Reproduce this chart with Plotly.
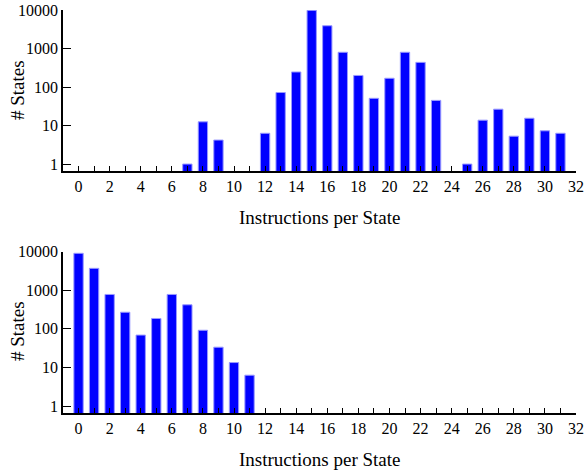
import plotly.graph_objects as go
from plotly.subplots import make_subplots

instructions = list(range(32))
# Top panel: number of states per instruction count (None = no states)
states_top = [None, None, None, None, None, None, None, 1, 12.5, 4.2,
              None, None, 6.3, 72, 246, 9800, 3900, 800, 200, 51,
              169, 800, 437, 45, None, 1, 13.8, 26.6, 5.3, 15.5,
              7.3, 6.3]
# Bottom panel
states_bottom = [9080, 3700, 780, 270, 69, 186, 780, 420, 92, 33.5,
                 13.4, 6.3] + [None] * 20

x_tickvals = list(range(0, 33, 2))
y_tickvals = [1, 10, 100, 1000, 10000]
x_title = "Instructions per State"
y_title = "# States"

fig = make_subplots(rows=2, cols=1, vertical_spacing=0.2)

for row, vals in [(1, states_top), (2, states_bottom)]:
    fig.add_trace(go.Bar(x=instructions, y=vals, width=0.6,
                         marker=dict(color="#0000ff",
                                     line=dict(color="#9999ff", width=1)),
                         showlegend=False), row=row, col=1)

font = dict(family="Liberation Serif, Times New Roman, serif", size=16, color="#000")
title_font = dict(family="Liberation Serif, Times New Roman, serif", size=19, color="#000")

for row in (1, 2):
    fig.update_xaxes(row=row, col=1, range=[-1, 32], tickvals=x_tickvals,
                     ticks="inside", ticklen=5, tickcolor="#000",
                     minor=dict(dtick=1, ticks="inside", ticklen=5, tickcolor="#000"),
                     showline=True, linecolor="#000", linewidth=1.5,
                     showgrid=False, zeroline=False, automargin=False,
                     tickfont=font)
    fig.update_yaxes(row=row, col=1, type="log", range=[-0.18, 4.0],
                     tickvals=y_tickvals, ticktext=[str(v) for v in y_tickvals],
                     ticks="inside", ticklen=8, tickcolor="#000",
                     showline=True, linecolor="#000", linewidth=1.5,
                     showgrid=False, zeroline=False, automargin=False,
                     tickfont=font)

fig.update_yaxes(domain=[0.6005, 1.0], row=1, col=1)
fig.update_yaxes(domain=[0.0, 0.4003], row=2, col=1)

# Axis titles as annotations (paper coords relative to plot area)
# plot area: x 63..576, y 10..413 (height 403)
for ycen_px, xt_px in [(90, 217), (331, 459)]:
    fig.add_annotation(text=y_title, xref="paper", yref="paper",
                       x=(17 - 63) / 513, y=(413 - ycen_px) / 403,
                       textangle=-90, showarrow=False, font=title_font,
                       xanchor="center", yanchor="middle")
    fig.add_annotation(text=x_title, xref="paper", yref="paper",
                       x=(319 - 63) / 513, y=(413 - xt_px) / 403,
                       showarrow=False, font=title_font,
                       xanchor="center", yanchor="middle")

fig.update_layout(
    width=586, height=472,
    margin=dict(l=63, r=10, t=10, b=59),
    plot_bgcolor="white", paper_bgcolor="white",
    font=font, bargap=0.4,
)

fig.write_html("out.html",
               config={"displayModeBar": False},
               post_script="document.body.style.margin='0';document.body.style.overflow='hidden';")
